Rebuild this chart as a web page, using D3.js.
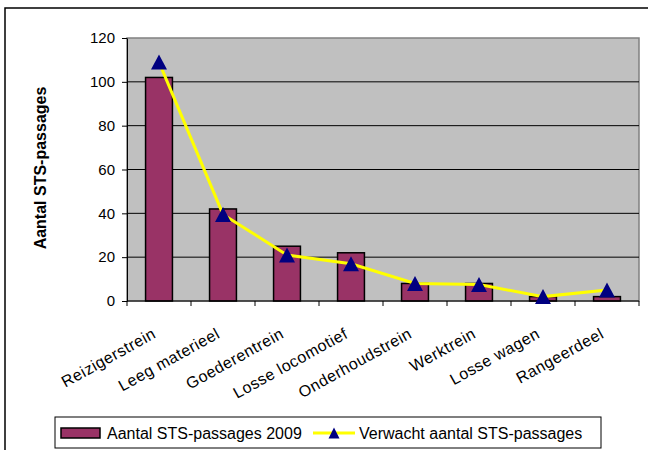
<!DOCTYPE html>
<html>
<head>
<meta charset="utf-8">
<script src="https://cdn.jsdelivr.net/npm/d3@7"></script>
<style>
  html, body { margin: 0; padding: 0; background: #fff; }
  svg { display: block; font-family: "Liberation Sans", Arial, sans-serif; }
</style>
</head>
<body>
<svg id="chart" width="648" height="450"></svg>
<script>
const categories = ["Reizigerstrein", "Leeg materieel", "Goederentrein", "Losse locomotief", "Onderhoudstrein", "Werktrein", "Losse wagen", "Rangeerdeel"];
const actual2009 = [102, 42, 25, 22, 8, 8, 2, 2];
const expected = [109, 39.5, 21, 17, 8, 7.5, 2, 5];
const yTicks = [0, 20, 40, 60, 80, 100, 120];
const seriesNames = ["Aantal STS-passages 2009", "Verwacht aantal STS-passages"];
const yTitle = "Aantal STS-passages";

const svg = d3.select("#chart");
const L = 127, R = 639, T = 38, B = 301;

// outer chart border (top & left visible)
svg.append("path").attr("d", `M5,450 V8 H648`).attr("fill", "none").attr("stroke", "#000").attr("stroke-width", 1.5);

const x = d3.scaleBand().domain(categories).range([L, R]).padding(0);
const y = d3.scaleLinear().domain([0, 120]).range([B, T]);

// plot area
svg.append("rect").attr("x", L).attr("y", T).attr("width", R - L).attr("height", B - T)
  .attr("fill", "#C0C0C0").attr("stroke", "#808080").attr("stroke-width", 1.5);

// gridlines
svg.append("g").selectAll("line").data(yTicks.filter(d => d > 0 && d < 120)).join("line")
  .attr("x1", L).attr("x2", R).attr("y1", d => y(d)).attr("y2", d => y(d))
  .attr("stroke", "#000").attr("stroke-width", 1);

// y axis
const yAxis = svg.append("g").attr("transform", `translate(${L},0)`)
  .call(d3.axisLeft(y).tickValues(yTicks).tickSize(5).tickPadding(7).tickSizeOuter(0));
yAxis.select(".domain").attr("stroke", "#000").attr("stroke-width", 1);
yAxis.selectAll(".tick line").attr("stroke", "#000");
yAxis.selectAll("text").attr("font-size", 15).attr("fill", "#000").attr("font-family", "Liberation Sans, Arial, sans-serif");

// y title
svg.append("text").attr("transform", `translate(46,168) rotate(-90)`)
  .attr("text-anchor", "middle").attr("font-weight", "bold").attr("font-size", 16)
  .text(yTitle);

// bars
const barW = x.bandwidth() * 0.42;
svg.append("g").selectAll("rect").data(categories).join("rect")
  .attr("x", d => x(d) + x.bandwidth() / 2 - barW / 2)
  .attr("y", (d, i) => y(actual2009[i]))
  .attr("width", barW)
  .attr("height", (d, i) => y(0) - y(actual2009[i]))
  .attr("fill", "#993366").attr("stroke", "#000").attr("stroke-width", 1.5);

// x axis
svg.append("line").attr("x1", L).attr("x2", R).attr("y1", B).attr("y2", B).attr("stroke", "#000").attr("stroke-width", 1);
const tickXs = categories.map(c => x(c)).concat([x(categories[categories.length - 1]) + x.bandwidth()]);
svg.append("g").selectAll("line").data(tickXs).join("line")
  .attr("x1", d => d).attr("x2", d => d).attr("y1", B).attr("y2", B + 5)
  .attr("stroke", "#000").attr("stroke-width", 1);
svg.append("g").selectAll("text").data(categories).join("text")
  .attr("transform", d => `translate(${x(d) + x.bandwidth() / 2 - 2},337) rotate(-29)`)
  .attr("text-anchor", "end").attr("font-size", 16).attr("letter-spacing", 0.5).attr("fill", "#000")
  .text(d => d);

// line
const cx = d => x(d) + x.bandwidth() / 2;
const line = d3.line().x((d, i) => cx(categories[i])).y(d => y(d));
svg.append("path").datum(expected).attr("d", line)
  .attr("fill", "none").attr("stroke", "#FFFF00").attr("stroke-width", 3);

const tri = (w, h) => `M0,${-h / 2}L${w / 2},${h / 2}L${-w / 2},${h / 2}Z`;
svg.append("g").selectAll("path").data(expected).join("path")
  .attr("transform", (d, i) => `translate(${cx(categories[i])},${y(d)})`)
  .attr("d", tri(16, 15)).attr("fill", "#000080");

// legend
const lg = svg.append("g");
lg.append("rect").attr("x", 55).attr("y", 417).attr("width", 546).attr("height", 31)
  .attr("fill", "#fff").attr("stroke", "#000").attr("stroke-width", 1);
lg.append("rect").attr("x", 61).attr("y", 428).attr("width", 39).attr("height", 10)
  .attr("fill", "#993366").attr("stroke", "#000").attr("stroke-width", 1.5);
lg.append("text").attr("x", 107).attr("y", 438.5).attr("font-size", 16).text(seriesNames[0]);
lg.append("line").attr("x1", 313).attr("x2", 355).attr("y1", 433).attr("y2", 433)
  .attr("stroke", "#FFFF00").attr("stroke-width", 3);
lg.append("path").attr("transform", "translate(334,433)").attr("d", tri(11, 11)).attr("fill", "#000080");
lg.append("text").attr("x", 359).attr("y", 438.5).attr("font-size", 16).text(seriesNames[1]);
</script>
</body>
</html>
